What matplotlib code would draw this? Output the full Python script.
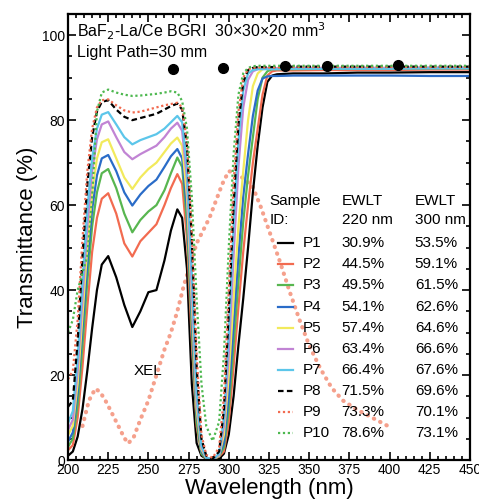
import matplotlib
matplotlib.use('Agg')
import matplotlib.pyplot as plt
from matplotlib.ticker import MultipleLocator

plt.rcParams['font.family'] = ['Liberation Sans', 'DejaVu Sans']

# wavelength grid (nm) shared by the P-series
wl = [200, 203, 206, 209, 212, 215, 218, 221, 225, 230, 235, 240, 245, 250, 255,
      260, 264, 268, 271, 274, 277, 280, 283, 286, 290, 294, 297, 300, 303, 306,
      309, 312, 315, 318, 321, 324, 327, 330, 340, 360, 380, 400, 425, 450]

p1 = [1.0, 2.0, 5.5, 12, 21, 31, 40, 46, 48, 43, 36.5, 31.3, 35, 39.5, 40, 47, 54, 59,
      57, 45, 18, 4, 1, 0.3, 0.2, 0.3, 1.5, 6, 15, 27, 38, 50, 63, 74, 83, 89, 90.5,
      90.8, 91, 91, 91.2, 91.2, 91.3, 91.3]
p2 = [2.3, 3.5, 10, 22, 36, 49, 57, 61.5, 62.8, 58, 51, 47.9, 51.5, 53.5, 55.5, 60, 64, 67.3,
      65, 52, 28, 8, 1.5, 0.3, 0.1, 0.8, 2, 9, 22, 36, 49, 60, 70, 78, 86, 90.5, 91.5,
      91.7, 91.7, 91.8, 91.8, 91.8, 91.9, 91.9]
p3 = [3.1, 5, 13, 27, 42, 55, 63, 67.5, 68.5, 64, 58, 53.6, 56.5, 58.5, 60, 63.5, 67.5, 71.2,
      69, 56, 31, 9, 1.5, 0.3, 0.1, 0.9, 3, 12, 27, 42, 56, 67, 76, 85, 90, 91.5, 92,
      92, 92, 92.1, 92.1, 92.2, 92.2, 92.2]
p4 = [4.3, 6.5, 16, 31, 46, 59, 67, 71, 71.8, 68, 63, 59.9, 62.5, 64.5, 66, 69, 71.5, 73.2,
      71, 59, 34, 11, 2, 0.4, 0.1, 1, 4, 15, 32, 48, 62, 72, 81, 87, 89.8, 90.3, 90.4,
      90.4, 90.5, 90.5, 90.5, 90.5, 90.4, 90.4]
p5 = [5.9, 8, 18, 34, 50, 63, 71, 74.8, 75.5, 71, 66.5, 63.8, 66.5, 68.5, 70, 72.5, 74.5, 75.9,
      74, 62, 37, 12, 2.5, 0.4, 0.1, 1, 6, 20, 38, 55, 68, 80, 88, 91, 92, 92.2, 92.2,
      92.2, 92.2, 92.3, 92.3, 92.3, 92.3, 92.3]
p6 = [7.1, 9.5, 21, 38, 55, 68, 75.5, 79, 79.7, 76, 72.5, 70.8, 72, 73, 74, 76, 78, 79.4,
      77.5, 66, 40, 14, 3, 0.5, 0.1, 1.2, 8, 25, 48, 69, 83, 89.5, 91.5, 92, 92.2, 92.2, 92.2,
      92.2, 92.3, 92.3, 92.3, 92.3, 92.4, 92.4]
p7 = [8.7, 11.5, 24, 42, 59, 71, 78, 81.3, 81.9, 79, 76, 74.3, 75.3, 76, 76.7, 78, 79.5, 81,
      79.5, 69, 44, 16, 3.5, 0.5, 0.1, 1.5, 10, 30, 55, 75, 87, 91, 91.8, 92, 92, 92, 92,
      92, 92.1, 92.1, 92.1, 92.1, 92.2, 92.2]
p8 = [12.5, 14, 28, 48, 65, 76, 82, 84.3, 84.7, 82.5, 80.8, 80, 80.5, 81, 81.5, 82.5, 83.3, 83.9,
      82.5, 74, 52, 22, 5, 1, 0.3, 2, 12, 35, 60, 79, 89, 91.8, 92.3, 92.5, 92.5, 92.5, 92.5,
      92.5, 92.6, 92.6, 92.6, 92.6, 92.6, 92.6]
p9 = [19, 21, 33, 52, 68, 78, 83, 84.7, 84.9, 83.5, 82.3, 81.8, 82, 82.5, 83, 83.5, 83.8, 84.1,
      83, 75, 54, 25, 6, 1.2, 0.5, 3, 15, 40, 65, 82, 90, 92, 92.3, 92.4, 92.4, 92.4, 92.4,
      92.4, 92.5, 92.5, 92.5, 92.5, 92.5, 92.5]
p10 = [30, 33, 40, 44, 48, 62, 82, 86.5, 87.2, 86.5, 86, 85.7, 85.8, 86, 86.2, 86.5, 86.8, 86.5,
       84.5, 78, 62, 38, 18, 8, 4.5, 9, 25, 50, 72, 86, 91, 92.3, 92.7, 92.8, 92.8, 92.8, 92.8,
       92.8, 92.8, 92.8, 92.8, 92.8, 92.8, 92.8]

# X-ray excited luminescence (arb.)
xel_wl = [209, 213, 217, 220, 224, 228, 232, 235, 237.5, 241, 245, 250, 255, 260, 264, 268,
          272, 276, 280, 284, 288, 292, 296, 300, 305, 310, 315, 320, 326, 332, 338, 344,
          350, 357, 364, 371, 380, 388, 395, 400]
xel = [8, 14, 16.8, 16, 13.5, 10.5, 7.5, 5.2, 3.9, 5.5, 9.5, 14, 20, 26, 30, 35,
       41, 46, 51, 54, 57, 61, 65, 68, 67.5, 66, 64.2, 59.5, 53, 46.5, 39.5, 33,
       27, 21.5, 17, 14, 11.8, 10.2, 8.8, 7.8]

# black dots along the top
dot_wl = [265.5, 296.5, 335, 361, 405]
dot_t = [92, 92.2, 92.8, 92.8, 93]

names = ['P1', 'P2', 'P3', 'P4', 'P5', 'P6', 'P7', 'P8', 'P9', 'P10']
ewlt_220 = ['30.9%', '44.5%', '49.5%', '54.1%', '57.4%', '63.4%', '66.4%', '71.5%', '73.3%', '78.6%']
ewlt_300 = ['53.5%', '59.1%', '61.5%', '62.6%', '64.6%', '66.6%', '67.6%', '69.6%', '70.1%', '73.1%']
series = [p1, p2, p3, p4, p5, p6, p7, p8, p9, p10]

colors = ['black', '#f26b50', '#58b650', '#2a6cc8', '#f2ea5c', '#c184d4', '#5cc6ea',
          'black', '#f26b50', '#4db84f']
styles = ['-', '-', '-', '-', '-', '-', '-', (0, (2.5, 1.5)), (0, (1, 1.2)), (0, (1, 1.2))]

fig = plt.figure(figsize=(4.79, 5.04), dpi=100)
ax = fig.add_axes([0.142, 0.0873, 0.839, 0.885])

ax.plot(xel_wl, xel, color='#f5a08c', lw=3, linestyle=(0, (0.1, 1.6)),
        dash_capstyle='round', zorder=1)

for i, y in enumerate(series):
    ax.plot(wl, y, color=colors[i], lw=1.6, linestyle=styles[i], zorder=2,
            solid_joinstyle='round')

ax.plot(dot_wl, dot_t, 'o', color='black', ms=7, zorder=4)

ax.set_xlim(200, 450)
ax.set_ylim(0, 105)
ax.xaxis.set_major_locator(MultipleLocator(25))
ax.xaxis.set_minor_locator(MultipleLocator(5))
ax.yaxis.set_major_locator(MultipleLocator(20))
ax.yaxis.set_minor_locator(MultipleLocator(5))
ax.tick_params(which='both', direction='in', top=True, right=True, labelsize=10,
               width=1.2, pad=2)
ax.tick_params(which='major', length=6)
ax.tick_params(which='minor', length=3)
for s in ax.spines.values():
    s.set_linewidth(1.6)

ax.set_xlabel('Wavelength (nm)', fontsize=16, labelpad=1)
ax.set_ylabel('Transmittance (%)', fontsize=16, labelpad=3)

ax.text(0.022, 0.962, 'BaF$_2$-La/Ce BGRI  30\u00d730\u00d720 mm$^3$', transform=ax.transAxes,
        fontsize=11.5, va='center', ha='left')
ax.text(0.022, 0.914, 'Light Path=30 mm', transform=ax.transAxes,
        fontsize=11.5, va='center', ha='left')
ax.text(250, 21, 'XEL', fontsize=11, ha='center', va='center')

# table-like legend
col0, col1, col2 = 0.502, 0.681, 0.863
ax.text(col0, 0.581, 'Sample', transform=ax.transAxes, fontsize=11, va='center')
ax.text(col1, 0.581, 'EWLT', transform=ax.transAxes, fontsize=11, va='center')
ax.text(col2, 0.581, 'EWLT', transform=ax.transAxes, fontsize=11, va='center')
ax.text(col0, 0.537, 'ID:', transform=ax.transAxes, fontsize=11, va='center')
ax.text(col1, 0.537, '220 nm', transform=ax.transAxes, fontsize=11, va='center')
ax.text(col2, 0.537, '300 nm', transform=ax.transAxes, fontsize=11, va='center')
for i in range(len(names)):
    yy = 0.486 - i * 0.0473
    ax.plot([0.522, 0.560], [yy, yy], transform=ax.transAxes, color=colors[i],
            lw=1.6, linestyle=styles[i], clip_on=False)
    ax.text(0.584, yy, names[i], transform=ax.transAxes, fontsize=11, va='center')
    ax.text(col1, yy, ewlt_220[i], transform=ax.transAxes, fontsize=11, va='center')
    ax.text(col2, yy, ewlt_300[i], transform=ax.transAxes, fontsize=11, va='center')

fig.savefig('out.png', dpi=100)
